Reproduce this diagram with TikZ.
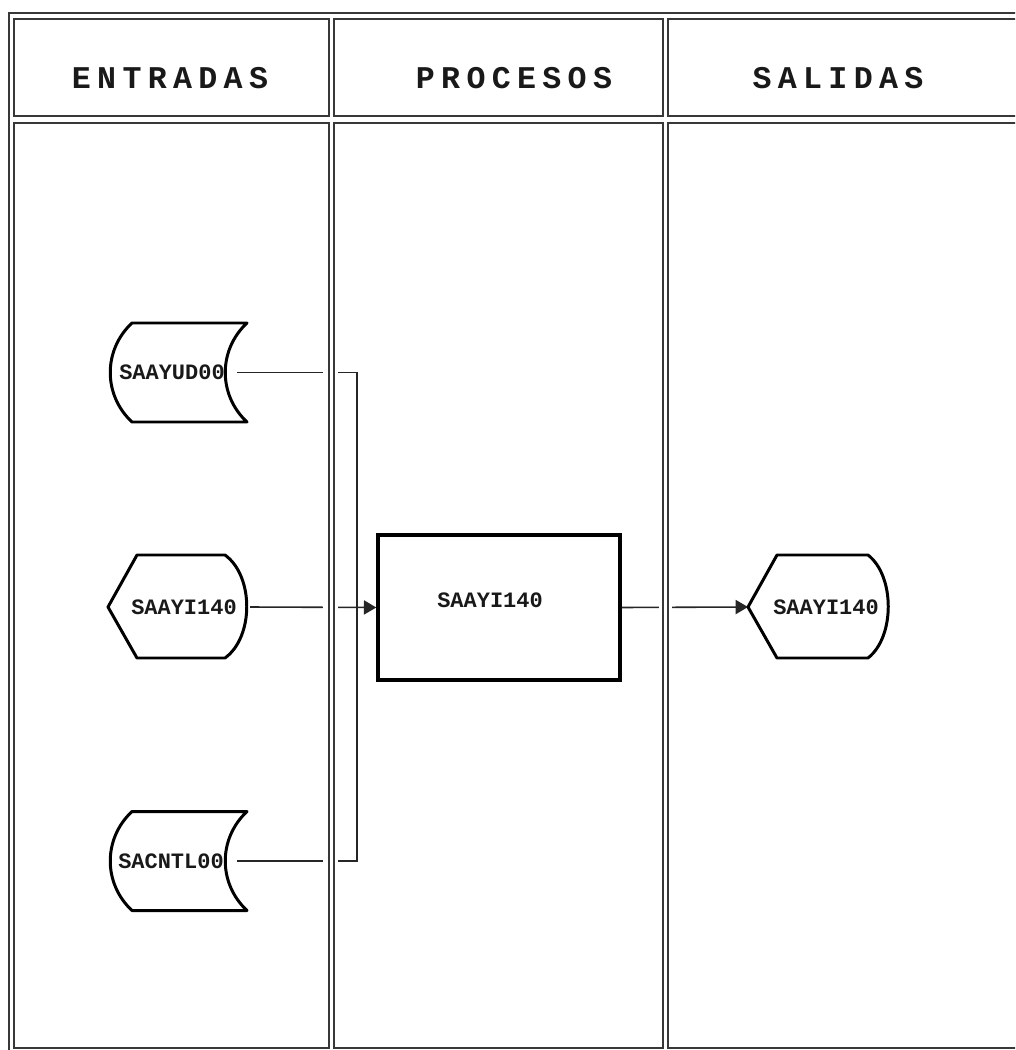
\documentclass[tikz,border=0pt]{standalone}
\usepackage{fontspec}
\setmonofont{Liberation Mono}
\newfontfamily\hdrfont[LetterSpace=20]{Liberation Mono}
\newfontfamily\lblfont{Liberation Mono}
\usetikzlibrary{arrows.meta}
\begin{document}
\begin{tikzpicture}[x=0.02cm,y=-0.02cm,
  frameline/.style={draw=black!78,line width=1.1pt},
  band/.style={fill=white,draw=none},
  conn/.style={draw=black!85,line width=0.9pt},
  arr/.style={-{Triangle[length=7pt,width=8pt]}},
  symb/.style={draw=black,line width=1.7pt,line join=round},
  hdr/.style={font=\hdrfont\bfseries\fontsize{18}{18}\selectfont,inner sep=0pt,text=black!90},
  lbl/.style={font=\lblfont\bfseries\fontsize{12.5}{12.5}\selectfont,inner sep=0pt,text=black!90},
  procbox/.style={draw=black,line width=2pt,minimum width=4.84cm,minimum height=2.9cm,inner sep=0pt}]
\useasboundingbox (0,0) rectangle (1015,1050);
\clip (0,0) rectangle (1015,1050);
\fill[white] (0,0) rectangle (1015,1050);

% nodes and anchor coordinates
\node[lbl] (in1) at (172,372.5) {SAAYUD00};
\node[lbl] (in2) at (184,607) {SAAYI140};
\node[lbl] (in3) at (171,861) {SACNTL00};
\node[procbox] (proc) at (499,607.5) {};
\node[lbl] (proct) at (490,600) {SAAYI140};
\node[lbl] (out1) at (826,607) {SAAYI140};
\coordinate (in1e) at (237,372.5);
\coordinate (in2e) at (250,607);
\coordinate (in3e) at (237,861);
\coordinate (bus) at (357,607);
\coordinate (outl) at (748,607);

% connectors
\draw[conn] (in1e) -| (bus);
\draw[conn] (in3e) -| (bus);
\draw[conn,arr] (in2e) -- (proc.west);
\draw[conn,arr] (proc.east) -- (outl);

% gaps where connectors cross the column borders
\path[band] (323,123) rectangle (338,1049);
\path[band] (659,123) rectangle (672,1049);

% frame and cells
\draw[frameline] (9,13) rectangle (1040,1070);
\draw[frameline] (14,19) rectangle (329,116);
\draw[frameline] (334,19) rectangle (663,116);
\draw[frameline] (668,19) rectangle (1030,116);
\draw[frameline] (14,123) rectangle (329,1048);
\draw[frameline] (334,123) rectangle (663,1048);
\draw[frameline] (668,123) rectangle (1030,1048);

\node[hdr] (h1) at (170,78) {ENTRADAS};
\node[hdr] (h2) at (514,78) {PROCESOS};
\node[hdr] (h3) at (838,78) {SALIDAS};

% symbols
\draw[symb] (132,323) -- (247,323) .. controls (218,350) and (218,395) .. (247,422)
  -- (132,422) .. controls (103,395) and (103,350) .. (132,323) -- cycle;
\draw[symb] (132,811.5) -- (247,811.5) .. controls (218,838.5) and (218,883.5) .. (247,910.5)
  -- (132,910.5) .. controls (103,883.5) and (103,838.5) .. (132,811.5) -- cycle;
\draw[symb] (108,607) -- (137,555) -- (225,555) .. controls (254,576) and (254,637) .. (225,658)
  -- (137,658) -- cycle;
\draw[symb] (748,607) -- (777,555) -- (868,555) .. controls (895,576) and (895,637) .. (868,658)
  -- (777,658) -- cycle;
\end{tikzpicture}
\end{document}
